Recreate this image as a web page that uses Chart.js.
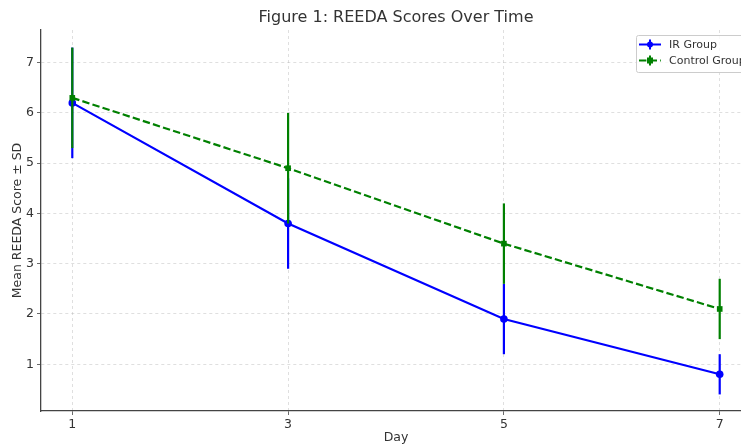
<!DOCTYPE html>
<html>
<head>
<meta charset="utf-8">
<script src="https://cdn.jsdelivr.net/npm/chart.js@4.4.1/dist/chart.umd.min.js"></script>
<style>
  html, body { margin: 0; padding: 0; background: #fff; overflow: hidden; }
  #wrap { width: 760px; height: 448px; }
</style>
</head>
<body>
<div id="wrap"><canvas id="reedaChart" width="760" height="448"></canvas></div>
<script>
// Data
const days = [1, 3, 5, 7];
const irMeans = [6.2, 3.8, 1.9, 0.8];
const irSD = [1.1, 0.9, 0.7, 0.4];
const controlMeans = [6.3, 4.9, 3.4, 2.1];
const controlSD = [1.0, 1.1, 0.8, 0.6];
const xTicks = [1, 3, 5, 7];
const yTicks = [1, 2, 3, 4, 5, 6, 7];

const FONT = "'DejaVu Sans', sans-serif";
const TEXT = '#333333';

// vertical error bars drawn under each dataset's line, using the chart scales
const errorBars = {
    id: 'errorBars',
    beforeDatasetDraw(chart, args) {
        const ds = chart.data.datasets[args.index];
        if (!ds.sd) return;
        const x = chart.scales.x, y = chart.scales.y;
        const ctx = chart.ctx;
        ctx.save();
        ctx.strokeStyle = ds.borderColor;
        ctx.lineWidth = 2.2;
        ctx.setLineDash([]);
        ds.data.forEach((p, i) => {
            const px = x.getPixelForValue(p.x);
            ctx.beginPath();
            ctx.moveTo(px, y.getPixelForValue(p.y - ds.sd[i]));
            ctx.lineTo(px, y.getPixelForValue(p.y + ds.sd[i]));
            ctx.stroke();
        });
        ctx.restore();
    }
};

// title centred over the plot area, legend in the upper right corner
const decorations = {
    id: 'decorations',
    afterDraw(chart) {
        const ctx = chart.ctx;
        const area = chart.chartArea;
        ctx.save();
        ctx.fillStyle = TEXT;
        ctx.font = '16px ' + FONT;
        ctx.textAlign = 'center';
        ctx.textBaseline = 'middle';
        ctx.fillText('Figure 1: REEDA Scores Over Time', (area.left + area.right) / 2, 18);

        // legend
        const boxX = 636, boxY = 35, boxW = 130, boxH = 37;
        ctx.fillStyle = 'rgba(255,255,255,0.8)';
        ctx.strokeStyle = '#cccccc';
        ctx.lineWidth = 1;
        ctx.beginPath();
        ctx.roundRect(boxX + 0.5, boxY + 0.5, boxW, boxH, 2);
        ctx.fill();
        ctx.stroke();
        chart.data.datasets.forEach((ds, i) => {
            const cy = boxY + 9.5 + i * 16;
            ctx.strokeStyle = ds.borderColor;
            ctx.fillStyle = ds.borderColor;
            ctx.lineWidth = 2;
            ctx.setLineDash(ds.borderDash || []);
            ctx.beginPath();
            ctx.moveTo(boxX + 3, cy);
            ctx.lineTo(boxX + 25, cy);
            ctx.stroke();
            ctx.setLineDash([]);
            ctx.beginPath();
            ctx.moveTo(boxX + 14, cy - 5);
            ctx.lineTo(boxX + 14, cy + 5);
            ctx.stroke();
            if (ds.pointStyle === 'rect') {
                ctx.fillRect(boxX + 11, cy - 3, 6, 6);
            } else {
                ctx.beginPath();
                ctx.arc(boxX + 14, cy, 3, 0, Math.PI * 2);
                ctx.fill();
            }
            ctx.fillStyle = TEXT;
            ctx.font = '11px ' + FONT;
            ctx.textAlign = 'left';
            ctx.fillText(ds.label, boxX + 33, cy + 1);
        });
        ctx.restore();
    }
};

const ctx = document.getElementById('reedaChart').getContext('2d');
const reedaChart = new Chart(ctx, {
    type: 'line',
    data: {
        datasets: [{
            label: 'IR Group',
            data: days.map((d, i) => ({ x: d, y: irMeans[i] })),
            sd: irSD,
            borderColor: '#0000ff',
            backgroundColor: '#0000ff',
            borderWidth: 2.2,
            pointStyle: 'circle',
            pointRadius: 3.8,
            pointBorderWidth: 0,
            order: 2
        }, {
            label: 'Control Group',
            data: days.map((d, i) => ({ x: d, y: controlMeans[i] })),
            sd: controlSD,
            borderColor: '#008000',
            backgroundColor: '#008000',
            borderWidth: 2.2,
            borderDash: [7.4, 3.2],
            pointStyle: 'rect',
            pointRadius: 4,
            pointBorderWidth: 0,
            order: 1
        }]
    },
    options: {
        responsive: false,
        animation: false,
        layout: { padding: { top: 30, right: 9, left: 10, bottom: 3 } },
        plugins: {
            legend: { display: false },
            title: { display: false },
            tooltip: { enabled: false }
        },
        scales: {
            x: {
                type: 'linear',
                min: 0.71,
                max: 7.29,
                afterBuildTicks: scale => { scale.ticks = xTicks.map(v => ({ value: v })); },
                afterFit: scale => { scale.height = 34; },
                ticks: { color: TEXT, font: { family: FONT, size: 12.5 }, padding: 2 },
                grid: { color: 'rgba(176,176,176,0.5)', lineWidth: 0.8, tickLength: 4, tickColor: '#444' },
                border: { display: true, color: '#444', width: 1.3, dash: [3, 3] },
                title: { display: true, text: 'Day', color: TEXT, font: { family: FONT, size: 12.5 }, padding: { top: 0, bottom: 0 } }
            },
            y: {
                min: 0.07,
                max: 7.65,
                afterBuildTicks: scale => { scale.ticks = yTicks.map(v => ({ value: v })); },
                afterFit: scale => { scale.width = 31; },
                ticks: { color: TEXT, font: { family: FONT, size: 12.5 }, padding: 3 },
                grid: { color: 'rgba(176,176,176,0.5)', lineWidth: 0.8, tickLength: 4, tickColor: '#444' },
                border: { display: true, color: '#444', width: 1.3, dash: [3, 3] },
                title: { display: true, text: 'Mean REEDA Score ± SD', color: TEXT, font: { family: FONT, size: 12.5 }, padding: { top: 0, bottom: 2 } }
            }
        }
    },
    plugins: [errorBars, decorations]
});
</script>
</body>
</html>
